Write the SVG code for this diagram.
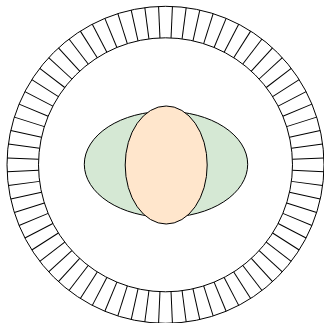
<svg xmlns="http://www.w3.org/2000/svg" xmlns:xlink="http://www.w3.org/1999/xlink" width="324" height="323" viewBox="0 0 324 323">
<style>
.s{stroke:#000;stroke-width:1;fill:none}
</style>
<defs>
<line id="t" x1="292.5" y1="164.8" x2="324" y2="164.8" class="s"/>
</defs>
<rect width="324" height="323" fill="#fff"/>
<g id="ring">
<circle cx="165.5" cy="164.8" r="158.5" class="s"/>
<circle cx="165.5" cy="164.8" r="127" class="s"/>
<g id="ticks">
<use xlink:href="#t" transform="rotate(2.5 165.5 164.8)"/>
<use xlink:href="#t" transform="rotate(7.5 165.5 164.8)"/>
<use xlink:href="#t" transform="rotate(12.5 165.5 164.8)"/>
<use xlink:href="#t" transform="rotate(17.5 165.5 164.8)"/>
<use xlink:href="#t" transform="rotate(22.5 165.5 164.8)"/>
<use xlink:href="#t" transform="rotate(27.5 165.5 164.8)"/>
<use xlink:href="#t" transform="rotate(32.5 165.5 164.8)"/>
<use xlink:href="#t" transform="rotate(37.5 165.5 164.8)"/>
<use xlink:href="#t" transform="rotate(42.5 165.5 164.8)"/>
<use xlink:href="#t" transform="rotate(47.5 165.5 164.8)"/>
<use xlink:href="#t" transform="rotate(52.5 165.5 164.8)"/>
<use xlink:href="#t" transform="rotate(57.5 165.5 164.8)"/>
<use xlink:href="#t" transform="rotate(62.5 165.5 164.8)"/>
<use xlink:href="#t" transform="rotate(67.5 165.5 164.8)"/>
<use xlink:href="#t" transform="rotate(72.5 165.5 164.8)"/>
<use xlink:href="#t" transform="rotate(77.5 165.5 164.8)"/>
<use xlink:href="#t" transform="rotate(82.5 165.5 164.8)"/>
<use xlink:href="#t" transform="rotate(87.5 165.5 164.8)"/>
<use xlink:href="#t" transform="rotate(92.5 165.5 164.8)"/>
<use xlink:href="#t" transform="rotate(97.5 165.5 164.8)"/>
<use xlink:href="#t" transform="rotate(102.5 165.5 164.8)"/>
<use xlink:href="#t" transform="rotate(107.5 165.5 164.8)"/>
<use xlink:href="#t" transform="rotate(112.5 165.5 164.8)"/>
<use xlink:href="#t" transform="rotate(117.5 165.5 164.8)"/>
<use xlink:href="#t" transform="rotate(122.5 165.5 164.8)"/>
<use xlink:href="#t" transform="rotate(127.5 165.5 164.8)"/>
<use xlink:href="#t" transform="rotate(132.5 165.5 164.8)"/>
<use xlink:href="#t" transform="rotate(137.5 165.5 164.8)"/>
<use xlink:href="#t" transform="rotate(142.5 165.5 164.8)"/>
<use xlink:href="#t" transform="rotate(147.5 165.5 164.8)"/>
<use xlink:href="#t" transform="rotate(152.5 165.5 164.8)"/>
<use xlink:href="#t" transform="rotate(157.5 165.5 164.8)"/>
<use xlink:href="#t" transform="rotate(162.5 165.5 164.8)"/>
<use xlink:href="#t" transform="rotate(167.5 165.5 164.8)"/>
<use xlink:href="#t" transform="rotate(172.5 165.5 164.8)"/>
<use xlink:href="#t" transform="rotate(177.5 165.5 164.8)"/>
<use xlink:href="#t" transform="rotate(182.5 165.5 164.8)"/>
<use xlink:href="#t" transform="rotate(187.5 165.5 164.8)"/>
<use xlink:href="#t" transform="rotate(192.5 165.5 164.8)"/>
<use xlink:href="#t" transform="rotate(197.5 165.5 164.8)"/>
<use xlink:href="#t" transform="rotate(202.5 165.5 164.8)"/>
<use xlink:href="#t" transform="rotate(207.5 165.5 164.8)"/>
<use xlink:href="#t" transform="rotate(212.5 165.5 164.8)"/>
<use xlink:href="#t" transform="rotate(217.5 165.5 164.8)"/>
<use xlink:href="#t" transform="rotate(222.5 165.5 164.8)"/>
<use xlink:href="#t" transform="rotate(227.5 165.5 164.8)"/>
<use xlink:href="#t" transform="rotate(232.5 165.5 164.8)"/>
<use xlink:href="#t" transform="rotate(237.5 165.5 164.8)"/>
<use xlink:href="#t" transform="rotate(242.5 165.5 164.8)"/>
<use xlink:href="#t" transform="rotate(247.5 165.5 164.8)"/>
<use xlink:href="#t" transform="rotate(252.5 165.5 164.8)"/>
<use xlink:href="#t" transform="rotate(257.5 165.5 164.8)"/>
<use xlink:href="#t" transform="rotate(262.5 165.5 164.8)"/>
<use xlink:href="#t" transform="rotate(267.5 165.5 164.8)"/>
<use xlink:href="#t" transform="rotate(272.5 165.5 164.8)"/>
<use xlink:href="#t" transform="rotate(277.5 165.5 164.8)"/>
<use xlink:href="#t" transform="rotate(282.5 165.5 164.8)"/>
<use xlink:href="#t" transform="rotate(287.5 165.5 164.8)"/>
<use xlink:href="#t" transform="rotate(292.5 165.5 164.8)"/>
<use xlink:href="#t" transform="rotate(297.5 165.5 164.8)"/>
<use xlink:href="#t" transform="rotate(302.5 165.5 164.8)"/>
<use xlink:href="#t" transform="rotate(307.5 165.5 164.8)"/>
<use xlink:href="#t" transform="rotate(312.5 165.5 164.8)"/>
<use xlink:href="#t" transform="rotate(317.5 165.5 164.8)"/>
<use xlink:href="#t" transform="rotate(322.5 165.5 164.8)"/>
<use xlink:href="#t" transform="rotate(327.5 165.5 164.8)"/>
<use xlink:href="#t" transform="rotate(332.5 165.5 164.8)"/>
<use xlink:href="#t" transform="rotate(337.5 165.5 164.8)"/>
<use xlink:href="#t" transform="rotate(342.5 165.5 164.8)"/>
<use xlink:href="#t" transform="rotate(347.5 165.5 164.8)"/>
<use xlink:href="#t" transform="rotate(352.5 165.5 164.8)"/>
<use xlink:href="#t" transform="rotate(357.5 165.5 164.8)"/>
</g>
</g>
<g id="green">
<ellipse cx="166" cy="164.3" rx="81.7" ry="53" fill="#d5e8d4" stroke="#000" stroke-width="1"/>
</g>
<g id="orange">
<ellipse cx="166.2" cy="165" rx="41" ry="59" fill="#ffe6cc" stroke="#000" stroke-width="1"/>
</g>
</svg>
